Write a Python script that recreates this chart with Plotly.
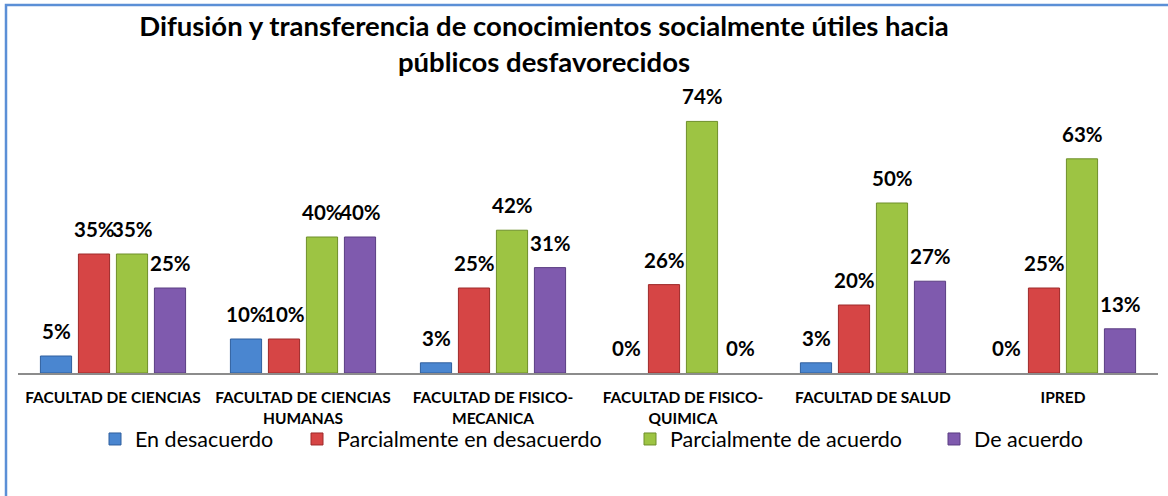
import plotly.graph_objects as go

# Datos
categorias = ["FACULTAD DE CIENCIAS", "FACULTAD DE CIENCIAS<br>HUMANAS",
              "FACULTAD DE FISICO-<br>MECANICA", "FACULTAD DE FISICO-<br>QUIMICA",
              "FACULTAD DE SALUD", "IPRED"]
series = ["En desacuerdo", "Parcialmente en desacuerdo",
          "Parcialmente de acuerdo", "De acuerdo"]
en_desacuerdo = [5, 10, 3, 0, 3, 0]
parc_desacuerdo = [35, 10, 25, 26, 20, 25]
parc_acuerdo = [35, 40, 42, 74, 50, 63]
de_acuerdo = [25, 40, 31, 0, 27, 13]

valores = [en_desacuerdo, parc_desacuerdo, parc_acuerdo, de_acuerdo]
colores = ["#4A86D0", "#D64545", "#9DC443", "#7F5AAE"]
bordes = ["#2F5F9E", "#9E2A2A", "#6E8F2A", "#5A3D82"]
ancho_leyenda = [157, 288, 259, 140]

W, H = 1168, 496
L, R, T, B = 18, 10, 100, 123
ymax = 80.3

fig = go.Figure()

for k in range(4):
    fig.add_trace(go.Bar(
        x=list(range(len(categorias))),
        # las barras de 0% no se dibujan (solo su etiqueta)
        y=[v if v > 0 else None for v in valores[k]],
        name=series[k],
        legendwidth=ancho_leyenda[k],
        marker=dict(color=colores[k], line=dict(color=bordes[k], width=1)),
    ))

# etiquetas de datos
anotaciones = []
for k in range(4):
    for i, v in enumerate(valores[k]):
        anotaciones.append(dict(
            x=i + (k - 1.5) * 0.2, y=v, xref="x", yref="y",
            text="<b>%d%%</b>" % v, showarrow=False,
            yanchor="middle", yshift=25,
            font=dict(family="Lato", size=20.5, color="#000000"),
        ))

fig.update_layout(
    width=W, height=H,
    margin=dict(l=L, r=R, t=T, b=B, autoexpand=False),
    paper_bgcolor="white", plot_bgcolor="white",
    barmode="group", bargap=0.2, bargroupgap=0.18,
    title=dict(
        text="<b>Difusión y transferencia de conocimientos socialmente útiles hacia<br>públicos desfavorecidos</b>",
        x=(544 - L) / (W - L - R), xref="paper", xanchor="center",
        y=1 - 36 / H, yanchor="top",
        font=dict(family="Lato", size=27.5, color="#000000"),
    ),
    xaxis=dict(
        tickmode="array", tickvals=list(range(len(categorias))),
        ticktext=["<b>%s</b>" % c for c in categorias],
        range=[-0.5, len(categorias) - 0.5],
        showline=True, linecolor="#8C8C8C", linewidth=1.5,
        ticks="", showgrid=False, zeroline=False, automargin=False,
        tickfont=dict(family="Lato", size=15.5, color="#000000"),
        ticklabelstandoff=10,
    ),
    yaxis=dict(range=[0, ymax], visible=False, showgrid=False, zeroline=False),
    legend=dict(
        orientation="h", xref="container", yref="container",
        x=95 / W, xanchor="left",
        y=1 - 439 / H, yanchor="middle",
        font=dict(family="Lato", size=21.5, color="#000000"),
        bgcolor="rgba(0,0,0,0)",
        traceorder="normal",
    ),
    annotations=anotaciones,
    shapes=[dict(type="path", xref="paper", yref="paper",
                 path="M %f %f L %f %f L %f %f" % (
                     (6 - L) / (W - L - R), -(H + 10 - (H - B)) / (H - T - B),
                     (6 - L) / (W - L - R), 1 + (T - 5) / (H - T - B),
                     (W + 10 - L) / (W - L - R), 1 + (T - 5) / (H - T - B)),
                 line=dict(color="#5B8FD6", width=2.5))],
)

# quitar el margen por defecto del body para que la figura ocupe la ventana
fig.write_html("out.html", config={"displayModeBar": False},
               post_script="document.body.style.margin='0px';")
